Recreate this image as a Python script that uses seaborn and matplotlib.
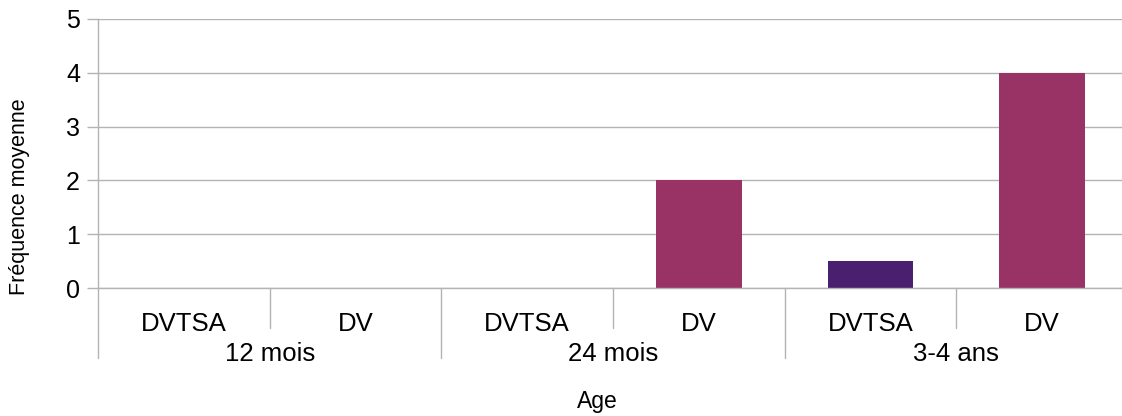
import pandas as pd
import numpy as np
import matplotlib.pyplot as plt
import seaborn as sns
from matplotlib.transforms import blended_transform_factory

groups = ["12 mois", "24 mois", "3-4 ans"]
subgroups = ["DVTSA", "DV"]
dvtsa = [0, 0, 0.5]
dv = [0, 2, 4]
colors = {"DVTSA": "#4b1f6f", "DV": "#993366"}

rows = []
for g, a, b in zip(groups, dvtsa, dv):
    rows.append({"slot": g + "|DVTSA", "Groupe": "DVTSA", "val": a})
    rows.append({"slot": g + "|DV", "Groupe": "DV", "val": b})
df = pd.DataFrame(rows)

sns.set_style("white")
plt.rcParams['font.family'] = ['Liberation Sans', 'DejaVu Sans']
plt.rcParams['text.color'] = 'black'
plt.rcParams['xtick.color'] = 'black'
plt.rcParams['ytick.color'] = 'black'
grid_c = "#b3b3b3"

W, H = 1122, 416
fig = plt.figure(figsize=(W / 100, H / 100), dpi=100)
# plot area runs a little past the right edge, as in the reference
ax = fig.add_axes([98 / W, 1 - 288 / H, (1128 - 98) / W, (288 - 19) / H])

sns.barplot(data=df, x="slot", y="val", hue="Groupe", palette=colors,
            dodge=False, width=0.5, ax=ax, legend=False, saturation=1,
            linewidth=0)

ax.set_ylim(0, 5)
ax.set_xlim(-0.5, 5.5)
ax.set_yticks(range(0, 6))
ax.yaxis.grid(True, color=grid_c, lw=1)
ax.set_axisbelow(True)
ax.axhline(0, color=grid_c, lw=1, clip_on=False, zorder=3)
for s in ["top", "right", "bottom"]:
    ax.spines[s].set_visible(False)
ax.spines["left"].set_color(grid_c)
ax.spines["left"].set_linewidth(1)
ax.tick_params(axis="y", length=8, color=grid_c, width=1, labelsize=18,
               pad=5, left=True, labelcolor="black")
ax.tick_params(axis="x", length=0, labelsize=18.5, pad=17, labelcolor="black")
ax.set_xticks(range(6))
ax.set_xticklabels([s.split("|")[1] for s in df["slot"]])
ax.set_xlabel("")
ax.set_ylabel("")

# separators below the axis
trans = blended_transform_factory(ax.transData, ax.transAxes)
for i in range(7):
    x = i - 0.5
    bottom = -0.26 if i % 2 == 0 else -0.149
    ax.plot([x, x], [0, bottom], color=grid_c, lw=1, transform=trans, clip_on=False)

for i, g in enumerate(groups):
    ax.text(2 * i + 0.5, -(361 - 288) / 269, g, transform=trans,
            ha="center", va="baseline", fontsize=18.5)

fig.text(597 / W, 1 - 408 / H, "Age", ha="center", va="baseline", fontsize=16.5)
fig.text(20 / W, 1 - 197 / H, "Fréquence moyenne", ha="center", va="center",
         rotation=90, fontsize=15.5)

fig.savefig("out.png", dpi=100)
